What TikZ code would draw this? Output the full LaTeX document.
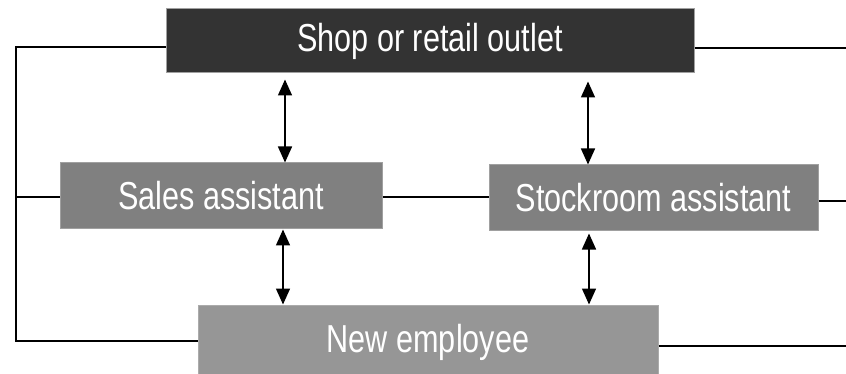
\documentclass[tikz,border=0pt]{standalone}
\usepackage{fontspec}
\setmainfont{Liberation Sans}[FakeStretch=0.785]
\usetikzlibrary{arrows.meta}
\definecolor{shopfill}{HTML}{333333}
\definecolor{midfill}{HTML}{808080}
\definecolor{newfill}{HTML}{969696}
\definecolor{boxedge}{HTML}{A0A0A0}
\tikzset{
  box/.style={draw=boxedge, line width=1pt, inner sep=0pt, text=white,
    font=\fontsize{39}{42}\selectfont},
  link/.style={line width=1.6pt, black},
  dbl/.style={line width=1.5pt, black, {Triangle[width=14pt,length=16pt]}-{Triangle[width=14pt,length=16pt]}, shorten <=5pt, shorten >=0pt}
}
\begin{document}
\begin{tikzpicture}[x=1pt,y=-1pt]
\useasboundingbox (0,0) rectangle (846,374);
\node[box, fill=shopfill, minimum width=528pt, minimum height=64pt] (shop) at (430,41) {\raisebox{-1pt}{Shop or retail outlet}};
\node[box, fill=midfill, minimum width=322pt, minimum height=66pt] (sales) at (221,196) {Sales assistant};
\node[box, fill=midfill, minimum width=329pt, minimum height=66pt] (stock) at (653.5,198) {Stockroom assistant};
\node[box, fill=newfill, draw=newfill!80!white, minimum width=460pt, minimum height=74pt] (new) at (428,342) {New employee};
\coordinate (c1) at (16,47);
\coordinate (c2) at (16,341);
\coordinate (c3) at (16,197);
\coordinate (r1) at (846,48);
\coordinate (r2) at (846,201);
\coordinate (r3) at (846,346);
\coordinate (m1) at (437,197);
\draw[link] (shop.west |- c1) -- (c1) -- (c2) -- (new.west |- c2);
\draw[link] (sales.west |- c3) -- (c3);
\draw[link] (shop.east |- r1) -- ++(3,0) -- (r1);
\draw[link] (stock.east |- r2) -- (r2);
\draw[link] (new.east |- r3) -- (r3);
\draw[link] (sales.east |- m1) -- (stock.west |- m1);
\draw[dbl, shorten <=6pt] (shop.south -| 285,0) -- (sales.north -| 285,0);
\draw[dbl, shorten <=8pt] (shop.south -| 588,0) -- (stock.north -| 588,0);
\draw[dbl, shorten <=0pt] (sales.south -| 283,0) -- (new.north -| 283,0);
\draw[dbl, shorten <=2pt] (stock.south -| 589,0) -- (new.north -| 589,0);
\end{tikzpicture}
\end{document}
